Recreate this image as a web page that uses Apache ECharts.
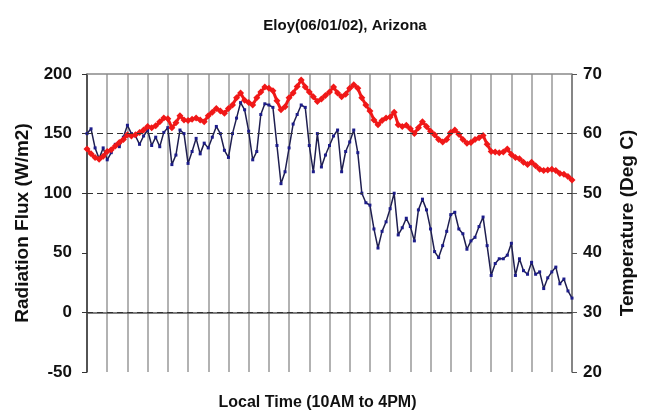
<!DOCTYPE html>
<html>
<head>
<meta charset="utf-8">
<script src="https://cdn.jsdelivr.net/npm/echarts@6/dist/echarts.min.js"></script>
<style>
html,body{margin:0;padding:0;background:#fff;}
#chart{width:646px;height:416px;}
</style>
</head>
<body>
<div id="chart"></div>
<script>
// Radiation flux (W/m2), sampled every 3 minutes from 10:00 to 16:00
const radiation = [
  150,154,138,129,138,128,134,141,139,147,
  157,150,148,141,148,153,140,147,139,151,
  155,124,132,153,150,125,135,146,133,142,
  138,147,156,150,136,130,150,163,176,170,
  152,128,135,166,175,174,172,140,108,118,
  138,158,166,174,172,140,118,150,122,132,
  140,148,153,118,135,143,153,134,100,92,
  90,70,54,68,76,87,100,65,71,79,
  72,60,86,95,86,70,51,46,56,68,
  82,84,70,66,53,60,63,72,80,56,
  31,41,45,45,48,58,31,45,35,32,
  42,32,34,20,29,34,38,24,28,18,
  12
];
// Temperature (Deg C)
const temperature = [
  57.4,56.6,56.0,55.7,56.2,57.0,57.3,57.9,58.5,59.0,
  59.8,59.6,59.8,60.2,60.6,61.2,61.0,61.3,62.0,62.6,
  62.5,61.0,61.8,63.0,62.3,62.2,62.4,62.6,62.3,62.0,
  63.0,63.6,64.2,63.8,63.4,64.2,64.8,66.0,66.8,65.6,
  65.2,64.8,66.0,67.0,67.8,67.6,67.2,65.5,64.0,64.5,
  66.0,66.8,67.9,69.0,67.8,67.0,66.2,65.4,65.8,66.4,
  67.0,67.8,66.8,66.2,66.6,67.6,68.2,67.6,66.0,64.8,
  63.8,62.3,61.5,62.2,62.6,62.8,63.6,61.5,61.2,61.4,
  60.8,60.0,61.0,62.0,61.2,60.4,59.8,59.0,58.6,59.0,
  60.2,60.6,59.9,59.0,58.4,58.5,59.0,59.3,59.7,58.2,
  57.0,56.9,56.8,56.9,57.4,56.5,56.0,55.8,55.2,54.8,
  55.2,54.6,54.0,53.8,53.9,54.0,53.8,53.3,53.2,52.8,
  52.2
];
// time categories (local time labels)
const times = radiation.map((_, i) => {
  const m = 600 + i * 3;
  return Math.floor(m / 60) + ':' + String(m % 60).padStart(2, '0');
});
const dashedLevels = [150, 100, 0];

const chart = echarts.init(document.getElementById('chart'), null, {renderer: 'canvas'});
const fontFam = '"Liberation Sans", Arial, sans-serif';
chart.setOption({
  animation: false,
  backgroundColor: '#ffffff',
  title: {
    text: 'Eloy(06/01/02), Arizona',
    left: 340, top: 13, textAlign: 'center',
    textStyle: {fontFamily: fontFam, fontSize: 15, fontWeight: 'bold', color: '#111'}
  },
  grid: {left: 87, right: 74, top: 74, bottom: 41, containLabel: false},
  xAxis: {
    type: 'category',
    data: times,
    boundaryGap: false,
    name: 'Local Time (10AM to 4PM)',
    nameLocation: 'middle',
    nameGap: 23,
    nameTextStyle: {fontFamily: fontFam, fontSize: 16, fontWeight: 'bold', color: '#111', padding: [0, 24, 0, 0]},
    axisLine: {lineStyle: {color: '#555', width: 1.5}},
    axisTick: {show: false},
    axisLabel: {show: false},
    splitLine: {show: true, interval: 4, lineStyle: {color: '#999', width: 1.5}}
  },
  yAxis: [
    {
      type: 'value', min: -50, max: 200, interval: 50,
      name: 'Radiation Flux (W/m2)',
      nameLocation: 'middle', nameGap: 54,
      nameTextStyle: {fontFamily: fontFam, fontSize: 19, fontWeight: 'bold', color: '#111'},
      axisLine: {show: true, lineStyle: {color: '#333', width: 1.5}},
      axisTick: {show: true, length: 5, lineStyle: {color: '#333'}},
      axisLabel: {fontFamily: fontFam, fontSize: 17, fontWeight: 'bold', color: '#111', margin: 15},
      splitLine: {show: false}
    },
    {
      type: 'value', min: 20, max: 70, interval: 10,
      name: 'Temperature (Deg C)',
      nameLocation: 'middle', nameGap: 46,
      nameTextStyle: {fontFamily: fontFam, fontSize: 19, fontWeight: 'bold', color: '#111'},
      axisLine: {show: true, lineStyle: {color: '#777', width: 1.5}},
      axisTick: {show: true, length: 5, lineStyle: {color: '#555'}},
      axisLabel: {fontFamily: fontFam, fontSize: 17, fontWeight: 'bold', color: '#111', margin: 11},
      splitLine: {show: false}
    }
  ],
  series: [
    {
      name: 'Radiation Flux',
      type: 'line',
      yAxisIndex: 0,
      data: radiation,
      symbol: 'rect',
      symbolSize: 3,
      showAllSymbol: true,
      itemStyle: {color: '#1c1c8a'},
      lineStyle: {color: '#1e1e50', width: 1.5},
      markLine: {
        silent: true,
        symbol: 'none',
        label: {show: false},
        lineStyle: {color: '#333', type: [6, 4], width: 1},
        data: dashedLevels.map(v => ({yAxis: v})).concat([
          {yAxis: 200, lineStyle: {color: '#888', type: 'solid', width: 1.5}}
        ])
      },
      z: 3
    },
    {
      name: 'Temperature',
      type: 'line',
      yAxisIndex: 1,
      data: temperature,
      symbol: 'diamond',
      symbolSize: 7,
      showAllSymbol: true,
      itemStyle: {color: '#f01818'},
      lineStyle: {color: '#f01818', width: 3},
      z: 4
    }
  ]
});
</script>
</body>
</html>
